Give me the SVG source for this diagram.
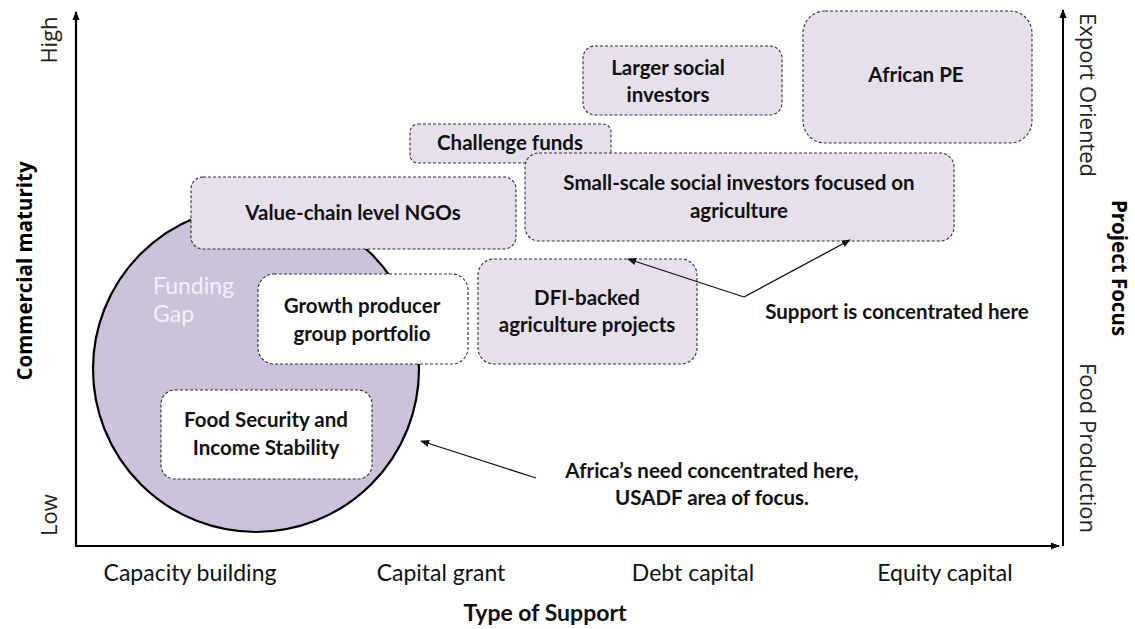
<svg xmlns="http://www.w3.org/2000/svg" width="1135" height="629" viewBox="0 0 1135 629">
<defs>
<marker id="ah" viewBox="0 0 10 10" refX="9" refY="5" markerWidth="9" markerHeight="9" markerUnits="userSpaceOnUse" orient="auto"><path d="M0,1 L10,5 L0,9 z" fill="#111"/></marker>
<marker id="axh" viewBox="0 0 10 10" refX="9" refY="5" markerWidth="9" markerHeight="9" markerUnits="userSpaceOnUse" orient="auto"><path d="M0,1 L10,5 L0,9 z" fill="#000"/></marker>
<style>
.box{fill:#e5e0ec;stroke:#333;stroke-width:1.1;stroke-dasharray:3 2}
.wbox{fill:#fff;stroke:#333;stroke-width:1.1;stroke-dasharray:3 2}
.t{font-family:Lato,"Liberation Sans",sans-serif;font-weight:bold;font-size:20.5px;fill:#111;text-anchor:middle}
.n{font-family:Lato,"Liberation Sans",sans-serif;font-size:23px;fill:#111;text-anchor:middle}
.ax{font-family:"Open Sans","DejaVu Sans",sans-serif;font-size:22px;fill:#222;text-anchor:middle}
.axb{font-family:"Open Sans","DejaVu Sans",sans-serif;font-weight:bold;font-size:20.5px;fill:#000;text-anchor:middle}
.ln{stroke:#111;stroke-width:1.3;fill:none}
</style>
</defs>
<rect width="1135" height="629" fill="#fff"/>
<g id="axes">
<line x1="76" y1="546" x2="76" y2="12" stroke="#000" stroke-width="2.2" marker-end="url(#axh)"/>
<line x1="75" y1="546" x2="1059" y2="546" stroke="#000" stroke-width="2.2" marker-end="url(#axh)"/>
<line x1="1063" y1="546" x2="1063" y2="10" stroke="#000" stroke-width="2" marker-end="url(#axh)"/>
<text class="ax" transform="translate(57,40) rotate(-90)">High</text>
<text class="ax" transform="translate(57,515) rotate(-90)">Low</text>
<text class="axb" transform="translate(32,271) rotate(-90)">Commercial maturity</text>
<text class="ax" transform="translate(1080,95) rotate(90)">Export Oriented</text>
<text class="ax" transform="translate(1080,448) rotate(90)">Food Production</text>
<text class="axb" transform="translate(1112,268) rotate(90)">Project Focus</text>
<text class="n" x="190" y="581">Capacity building</text>
<text class="n" x="441" y="581">Capital grant</text>
<text class="n" x="693" y="581">Debt capital</text>
<text class="n" x="945" y="581">Equity capital</text>
<text class="t" x="545" y="621" style="font-size:23px">Type of Support</text>
</g>
<g id="funding-gap">
<circle cx="256" cy="369" r="163" fill="#cbc2dc" stroke="#000" stroke-width="2.2"/>
<text x="153" y="294" style="font-family:Lato,'Liberation Sans',sans-serif;font-size:23px;fill:#f4f1f8">Funding</text>
<text x="153" y="322" style="font-family:Lato,'Liberation Sans',sans-serif;font-size:23px;fill:#f4f1f8">Gap</text>
</g>
<g id="value-chain">
<rect class="box" x="191" y="177" width="325" height="72" rx="12"/>
<text class="t" x="353" y="220">Value-chain level NGOs</text>
</g>
<g id="challenge-funds">
<rect class="box" x="410" y="124" width="201" height="39" rx="8"/>
<text class="t" x="510" y="150">Challenge funds</text>
</g>
<g id="larger-social">
<rect class="box" x="583" y="46" width="199" height="69" rx="12"/>
<text class="t" x="668" y="75">Larger social</text>
<text class="t" x="668" y="102">investors</text>
</g>
<g id="african-pe">
<rect class="box" x="803" y="11" width="229" height="132" rx="22"/>
<text class="t" x="916" y="82">African PE</text>
</g>
<g id="small-scale">
<rect class="box" x="525" y="153" width="429" height="88" rx="14"/>
<text class="t" x="739" y="190">Small-scale social investors focused on</text>
<text class="t" x="739" y="218">agriculture</text>
</g>
<g id="growth">
<rect class="wbox" x="258" y="274" width="210" height="90" rx="16"/>
<text class="t" x="362" y="313">Growth producer</text>
<text class="t" x="362" y="341">group portfolio</text>
</g>
<g id="dfi">
<rect class="box" x="478" y="259" width="219" height="105" rx="16"/>
<text class="t" x="587" y="305">DFI-backed</text>
<text class="t" x="587" y="332">agriculture projects</text>
</g>
<g id="food-security">
<rect class="wbox" x="161" y="390" width="211" height="89" rx="14"/>
<text class="t" x="266" y="427">Food Security and</text>
<text class="t" x="266" y="455">Income Stability</text>
</g>
<g id="connectors">
<line class="ln" x1="744" y1="297" x2="628" y2="259" marker-end="url(#ah)"/>
<line class="ln" x1="744" y1="297" x2="850" y2="240" marker-end="url(#ah)"/>
<line class="ln" x1="536" y1="478" x2="421" y2="441" marker-end="url(#ah)"/>
</g>
<g id="labels">
<text class="t" x="897" y="319">Support is concentrated here</text>
<text class="t" x="712" y="478">Africa’s need concentrated here,</text>
<text class="t" x="712" y="505">USADF area of focus.</text>
</g>
</svg>
